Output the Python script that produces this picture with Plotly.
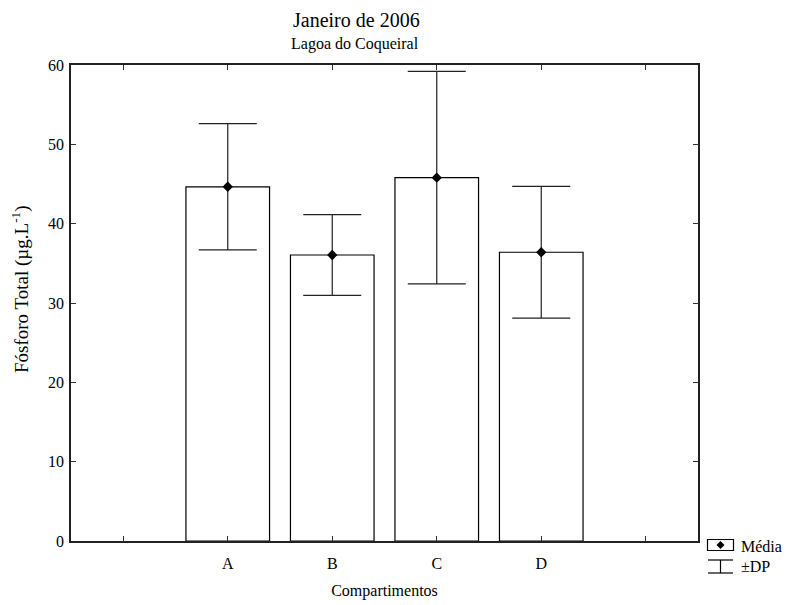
import plotly.graph_objects as go

categories = ["A", "B", "C", "D"]
means = [44.65, 36.05, 45.8, 36.4]
sds = [7.95, 5.1, 13.4, 8.3]
tick_positions = [-1, 0, 1, 2, 3, 4]
tick_labels = ["", "A", "B", "C", "D", ""]
y_ticks = [0, 10, 20, 30, 40, 50, 60]

xpos = list(range(len(categories)))
FONT = "Liberation Serif"

fig = go.Figure()
fig.add_trace(go.Bar(
    x=xpos, y=means, width=0.8,
    marker=dict(color="white", line=dict(color="black", width=1.2)),
    hoverinfo="skip", showlegend=False,
))
fig.add_trace(go.Scatter(
    x=xpos, y=means, mode="markers",
    marker=dict(symbol="diamond", size=8, color="black"),
    error_y=dict(type="data", array=sds, visible=True, color="#222",
                 thickness=1.2, width=29),
    showlegend=False,
))

# page body adds an 8px offset, so the figure is 8px smaller
fig.update_layout(
    width=782, height=597,
    margin=dict(l=63, r=92, t=57, b=64, autoexpand=False),
    paper_bgcolor="white", plot_bgcolor="white",
    font=dict(family=FONT, size=16, color="black"),
    xaxis=dict(range=[-1.5, 4.5], tickvals=tick_positions, ticktext=tick_labels,
               ticks="inside", ticklen=5, tickcolor="#333", tickwidth=1,
               showline=True, linecolor="#222", linewidth=1.5, mirror="ticks",
               showgrid=False, zeroline=False, ticklabelstandoff=7, automargin=False,
               tickfont=dict(family=FONT, size=16),
               title=dict(text="Compartimentos", font=dict(family=FONT, size=16), standoff=14)),
    yaxis=dict(range=[0, 60], tickvals=y_ticks,
               ticks="inside", ticklen=5, tickcolor="#333", tickwidth=1,
               showline=True, linecolor="#222", linewidth=1.5, mirror="ticks",
               showgrid=False, zeroline=False, ticklabelstandoff=2, automargin=False,
               tickfont=dict(family=FONT, size=16)),
    bargap=0.2,
)

W, H = 627, 476
def px(x):
    return (x - 71) / W
def py(y):
    return (541 - y) / H

# titles
fig.add_annotation(text="Janeiro de 2006", xref="paper", yref="paper",
                   x=px(356), y=py(20), showarrow=False,
                   font=dict(family=FONT, size=20), xanchor="center", yanchor="middle")
fig.add_annotation(text="Lagoa do Coqueiral", xref="paper", yref="paper",
                   x=px(355), y=py(44), showarrow=False,
                   font=dict(family=FONT, size=16), xanchor="center", yanchor="middle")
fig.add_annotation(text="Fósforo Total (µg.L<sup>-1</sup>)", xref="paper", yref="paper",
                   x=px(20), y=py(289), showarrow=False, textangle=-90,
                   font=dict(family=FONT, size=19), xanchor="center", yanchor="middle")

# legend
fig.add_shape(type="rect", xref="paper", yref="paper",
              x0=px(707.5), x1=px(733.5), y0=py(539.5), y1=py(550.5),
              line=dict(color="black", width=1.2), fillcolor="white")
fig.add_shape(type="path", xref="paper", yref="paper",
              path=f"M {px(720.5)} {py(541)} L {px(724.5)} {py(545)} L {px(720.5)} {py(549)} L {px(716.5)} {py(545)} Z",
              line=dict(color="black", width=0), fillcolor="black")
fig.add_shape(type="line", xref="paper", yref="paper",
              x0=px(708), x1=px(733), y0=py(560), y1=py(560), line=dict(color="black", width=1.2))
fig.add_shape(type="line", xref="paper", yref="paper",
              x0=px(708), x1=px(733), y0=py(573), y1=py(573), line=dict(color="black", width=1.2))
fig.add_shape(type="line", xref="paper", yref="paper",
              x0=px(720.5), x1=px(720.5), y0=py(560), y1=py(573), line=dict(color="black", width=1.2))
fig.add_annotation(text="Média", xref="paper", yref="paper", x=px(739), y=py(546),
                   showarrow=False, xanchor="left", yanchor="middle",
                   font=dict(family=FONT, size=16))
fig.add_annotation(text="±DP", xref="paper", yref="paper", x=px(739), y=py(566),
                   showarrow=False, xanchor="left", yanchor="middle",
                   font=dict(family=FONT, size=16))

fig.write_html("out.html")
